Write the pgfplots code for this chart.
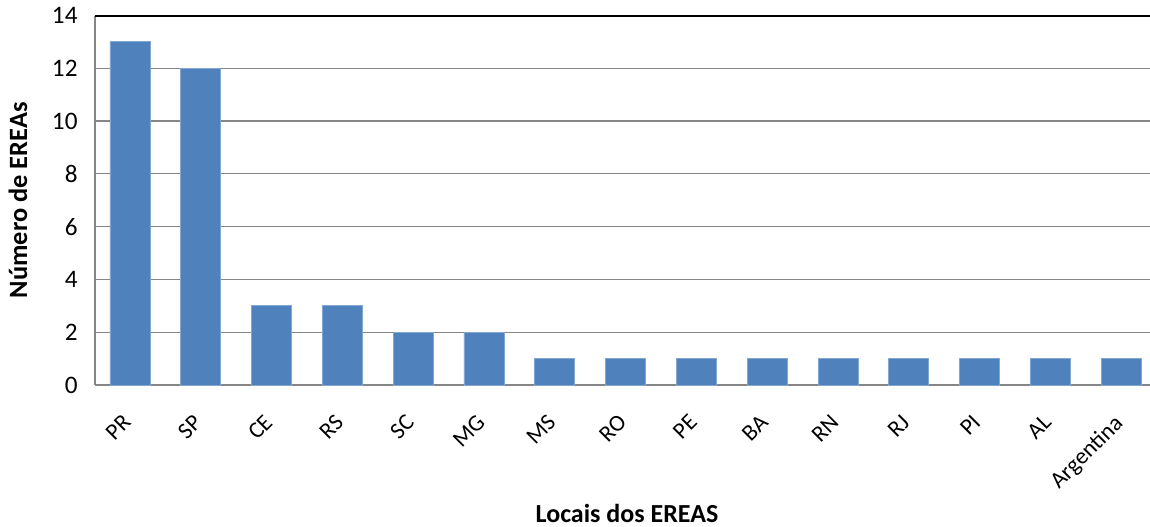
\documentclass[border=0pt]{standalone}
\usepackage{pgfplots}
\pgfplotsset{compat=1.18}
\usepackage{fontspec}
\setmainfont{Carlito}
\definecolor{barblue}{HTML}{4F81BD}
\definecolor{axisgray}{HTML}{868686}
\begin{document}
\begin{tikzpicture}
\begin{axis}[
  at={(0pt,0pt)}, anchor=south west,
  scale only axis,
  width=527.7pt, height=184.75pt,
  xmin=-0.5, xmax=14.407,
  ymin=0, ymax=14,
  axis x line*=bottom, axis y line*=left,
  axis line style={axisgray, line width=1pt, -},
  xtick={0,...,14},
  xticklabels={PR,SP,CE,RS,SC,MG,MS,RO,PE,BA,RN,RJ,PI,AL,Argentina},
  ytick={0,2,...,12},
  extra y ticks={14},
  extra y tick style={grid style={black, line width=1pt}},
  ymajorgrids,
  grid style={axisgray, line width=0.6pt},
  major tick length=0pt,
  /pgf/number format/assume math mode=true,
  yticklabel style={font=\fontsize{12.6}{14}\selectfont, xshift=-5pt},
  xticklabel style={font=\fontsize{11.6}{14}\selectfont, rotate=45, anchor=north east, xshift=-9.5pt, yshift=-3.5pt},
  ylabel={\textbf{Número de EREAs}},
  ylabel style={font=\fontsize{13.2}{14}\selectfont, at={(-38.3pt,92.4pt)}, anchor=center, rotate=0},
  xlabel={\textbf{Locais dos EREAS}},
  xlabel style={font=\fontsize{13}{14}\selectfont, at={(266.2pt,-64pt)}, anchor=center},
]
\addplot[ybar, bar width=20pt, fill=barblue, draw=barblue!70!white, line width=0.4pt]
  coordinates {(0,13) (1,12) (2,3) (3,3) (4,2) (5,2) (6,1) (7,1) (8,1) (9,1) (10,1) (11,1) (12,1) (13,1) (14,1)};
\end{axis}
\pgfresetboundingbox
\useasboundingbox (-47.3pt,-70.5pt) rectangle (527.7pt,192.5pt);
\end{tikzpicture}
\end{document}
